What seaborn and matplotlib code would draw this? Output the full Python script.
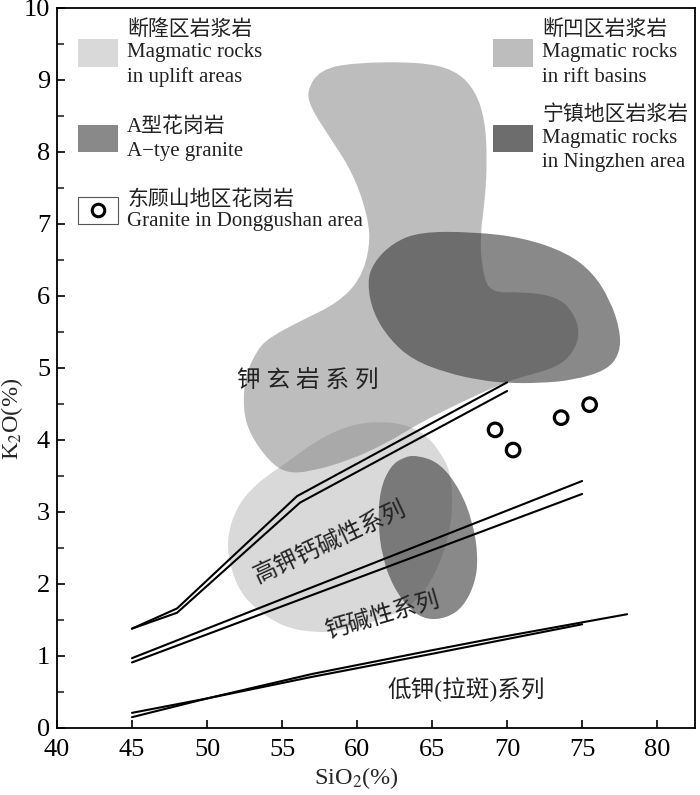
import numpy as np
import matplotlib
matplotlib.use('Agg')
import matplotlib.pyplot as plt
from matplotlib.path import Path
from matplotlib.patches import PathPatch, Rectangle
import seaborn as sns

sns.set_theme(style='ticks')
plt.rcParams['font.family'] = ['Liberation Serif', 'Noto Sans CJK SC', 'DejaVu Sans']
plt.rcParams['mathtext.fontset'] = 'stix'

# outlines of the fields (SiO2, K2O)
uplift_x = [54.4, 55.07, 57.33, 59.53, 61.53, 63.33, 64.67, 65.53, 66.2, 66.4, 66.07, 65.2,
            64.07, 62.87, 61.07, 58.87, 57.33, 55.07, 53.07, 52.0, 51.4, 51.4, 52.0, 53.07]
uplift_y = [3.56, 3.65, 4.0, 4.21, 4.26, 4.21, 4.06, 3.83, 3.58, 3.10, 2.61, 2.13,
            1.78, 1.61, 1.47, 1.35, 1.32, 1.40, 1.68, 1.96, 2.38, 2.71, 3.07, 3.35]

rift_x = [56.67, 57.53, 59.73, 64.2, 66.53, 67.87, 68.53, 68.67, 68.53, 68.2, 68.33, 68.87,
          71.07, 73.33, 74.4, 74.87, 74.4, 73.33, 71.07, 69.73, 67.53, 65.53, 63.73, 62.0,
          59.53, 56.87, 55.33, 54.2, 52.87, 52.4, 52.53, 53.33, 54.2, 56.4, 58.67, 60.2,
          60.87, 60.73, 59.73, 58.0, 56.87]
rift_y = [8.86, 9.14, 9.24, 9.25, 9.14, 8.86, 8.44, 7.89, 7.33, 6.85, 6.36, 6.04,
          6.06, 5.99, 5.78, 5.49, 5.21, 5.01, 4.88, 4.79, 4.58, 4.38, 4.18, 3.96,
          3.72, 3.56, 3.54, 3.69, 4.07, 4.42, 4.88, 5.25, 5.43, 5.67, 5.90, 6.22,
          6.68, 7.10, 7.71, 8.26, 8.63]

atype_x = [64.0, 65.53, 66.87, 67.73, 68.07, 67.87, 67.07, 66.0, 64.67, 63.53, 62.4,
           61.67, 61.4, 61.53, 62.2, 63.07]
atype_y = [3.79, 3.68, 3.31, 2.85, 2.38, 2.01, 1.68, 1.53, 1.50, 1.64, 1.96,
           2.38, 2.85, 3.31, 3.63, 3.76]

ningzhen_x = [64.2, 67.73, 71.07, 74.0, 75.73, 76.87, 77.53, 77.53, 76.67, 74.4, 72.2,
              70.0, 68.2, 66.0, 63.73, 62.2, 61.07, 60.67, 61.07, 62.4]
ningzhen_y = [6.89, 6.89, 6.81, 6.6, 6.32, 5.94, 5.53, 5.21, 4.97, 4.83, 4.79,
              4.79, 4.83, 4.93, 5.11, 5.39, 5.76, 6.18, 6.46, 6.74]

# series boundaries, each a pair of lines
sho_up_x, sho_up_y = [45, 48, 56, 70], [1.38, 1.66, 3.22, 4.80]
sho_lo_x, sho_lo_y = [45, 48, 56.2, 70], [1.38, 1.60, 3.13, 4.68]
hk_up_x, hk_up_y = [45, 75], [0.97, 3.43]
hk_lo_x, hk_lo_y = [45, 75], [0.91, 3.25]
lk_up_x, lk_up_y = [45, 50, 57, 65, 69, 78], [0.21, 0.41, 0.75, 1.08, 1.24, 1.58]
lk_lo_x, lk_lo_y = [45, 50, 57, 65, 75], [0.15, 0.41, 0.71, 1.03, 1.44]

# Donggushan granite samples
dgs_sio2 = [69.2, 70.4, 73.6, 75.5]
dgs_k2o = [4.14, 3.86, 4.31, 4.49]


def blob(ax, xs, ys, **kw):
    # closed quadratic curve through the outline points
    pts = np.column_stack([xs, ys])
    mids = (pts + np.roll(pts, -1, axis=0)) / 2
    verts = [mids[-1]]
    codes = [Path.MOVETO]
    for p, m in zip(pts, mids):
        verts += [p, m]
        codes += [Path.CURVE3, Path.CURVE3]
    verts.append(mids[-1])
    codes.append(Path.CLOSEPOLY)
    ax.add_patch(PathPatch(Path(verts, codes), lw=0, **kw))


fig = plt.figure(figsize=(7, 7.95), dpi=100)
ax = fig.add_axes([0.0814, 0.0843, 0.9116, 0.9057])

blob(ax, uplift_x, uplift_y, facecolor='#d9d9d9', zorder=1)
blob(ax, rift_x, rift_y, facecolor='#747474', alpha=0.47, zorder=2)
blob(ax, ningzhen_x, ningzhen_y, facecolor='#343434', alpha=0.58, zorder=3)
blob(ax, atype_x, atype_y, facecolor='#343434', alpha=0.58, zorder=3)

for lx, ly in [(sho_up_x, sho_up_y), (sho_lo_x, sho_lo_y), (hk_up_x, hk_up_y),
               (hk_lo_x, hk_lo_y), (lk_up_x, lk_up_y), (lk_lo_x, lk_lo_y)]:
    sns.lineplot(x=lx, y=ly, sort=False, estimator=None, color='black', lw=1.5, ax=ax, zorder=4)

sns.scatterplot(x=dgs_sio2, y=dgs_k2o, marker='o', s=95, facecolor='none',
                edgecolor='black', linewidth=2.3, ax=ax, zorder=5)

# field labels
lab = dict(fontsize=17, color='#222222', ha='center', va='center', zorder=6)
ax.text(56.7, 4.83, '钾 玄 岩 系 列', **lab)
ax.text(58.2, 2.58, '高钾钙碱性系列', rotation=25, **lab)
ax.text(61.7, 1.55, '钙碱性系列', rotation=16, **lab)
ax.text(67.3, 0.53, '低钾(拉斑)系列', **lab)

# legend drawn inside the frame
leg = dict(fontsize=15, color='#222222', ha='left', va='center', linespacing=1.0)
ax.add_patch(Rectangle((41.4, 9.18), 2.67, 0.39, facecolor='#d9d9d9', lw=0))
ax.text(44.67, 9.69, '断隆区岩浆岩', **leg)
ax.text(44.67, 9.375, 'Magmatic rocks', **leg)
ax.text(44.67, 9.04, 'in uplift areas', **leg)
ax.add_patch(Rectangle((41.4, 8.0), 2.67, 0.375, facecolor='#898989', lw=0))
ax.text(44.67, 8.35, 'A型花岗岩', **leg)
ax.text(44.67, 8.0, 'A\u2212tye granite', **leg)
ax.add_patch(Rectangle((41.4, 7.0), 2.67, 0.375, facecolor='white', edgecolor='#555555', lw=0.8))
ax.plot([42.73], [7.19], 'o', ms=9, mfc='none', mec='black', mew=2.2)
ax.text(44.67, 7.33, '东顾山地区花岗岩', **leg)
ax.text(44.67, 7.03, 'Granite in Donggushan area', **leg)
ax.add_patch(Rectangle((69.07, 9.18), 2.67, 0.39, facecolor='#bdbdbd', lw=0))
ax.text(72.33, 9.69, '断凹区岩浆岩', **leg)
ax.text(72.33, 9.375, 'Magmatic rocks', **leg)
ax.text(72.33, 9.04, 'in rift basins', **leg)
ax.add_patch(Rectangle((69.07, 8.0), 2.67, 0.375, facecolor='#6d6d6d', lw=0))
ax.text(72.33, 8.51, '宁镇地区岩浆岩', **leg)
ax.text(72.33, 8.19, 'Magmatic rocks', **leg)
ax.text(72.33, 7.86, 'in Ningzhen area', **leg)

ax.set_xlim(40, 82.53)
ax.set_ylim(0, 10)
ax.set_xticks(np.arange(40, 81, 5))
ax.set_yticks(np.arange(0, 11, 1))
ax.set_yticks(np.arange(0.5, 10, 1), minor=True)
ax.tick_params(direction='in', length=6, width=1.2, labelsize=19, colors='black', pad=5)
ax.tick_params(axis='x', pad=8)
ax.tick_params(which='minor', direction='in', length=5, width=1.2)
for sp in ax.spines.values():
    sp.set_linewidth(1.3)
    sp.set_color('black')
ax.set_xlabel('SiO$_2$(%)', fontsize=17.5)
ax.set_ylabel('K$_2$O(%)', fontsize=17.5)
ax.xaxis.set_label_coords(0.47, -0.052)
ax.yaxis.set_label_coords(-0.05, 0.43)

fig.savefig('out.png', dpi=100)
